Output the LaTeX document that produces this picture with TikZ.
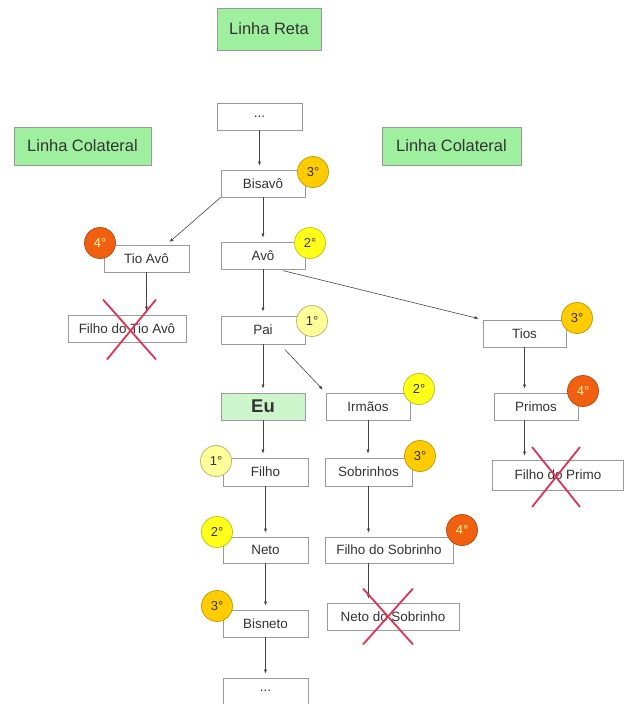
\documentclass[tikz,border=0pt]{standalone}
\usepackage{fontspec}
\setmainfont{Liberation Sans}
\usetikzlibrary{arrows.meta}
\definecolor{headfill}{HTML}{9EF09E}
\definecolor{eufill}{HTML}{CCF5CC}
\definecolor{boxline}{HTML}{9A9A9A}
\definecolor{textgray}{HTML}{333333}
\definecolor{arrowgray}{HTML}{444444}
\definecolor{firstfill}{HTML}{FFFF99}
\definecolor{secondfill}{HTML}{FFFF1A}
\definecolor{thirdfill}{HTML}{FFCC00}
\definecolor{fourthfill}{HTML}{F06010}
\definecolor{crossred}{HTML}{DD3355}
\begin{document}
\begin{tikzpicture}[x=1bp, y=-1bp,
    box/.style={shape=rectangle, draw=boxline, fill=white, line width=0.8bp, minimum width=85bp, minimum height=27bp, inner sep=0pt, text=textgray, font=\fontsize{13.5}{14}\selectfont},
    header/.style={box, fill=headfill, minimum height=38bp, font=\fontsize{16.5}{17}\selectfont},
    link/.style={draw=arrowgray, line width=0.6bp, -{Latex[length=4bp,width=3.2bp]}, shorten >=4bp},
    badge/.style={shape=circle, minimum size=31bp, inner sep=0pt, line width=0.7bp, text=textgray, font=\fontsize{13}{13}\selectfont},
    first/.style={badge, fill=firstfill, draw=firstfill!70!black},
    second/.style={badge, fill=secondfill, draw=secondfill!75!black},
    third/.style={badge, fill=thirdfill, draw=thirdfill!75!black},
    fourth/.style={badge, fill=fourthfill, draw=fourthfill!75!black, text=yellow!40!white},
    cross/.style={draw=crossred, line width=1.8bp}]
    \useasboundingbox (0, 0) rectangle (631, 704);
    \node (LinhaReta) [header, minimum width=104bp, minimum height=42bp] at (269, 29) {Linha Reta};
    \node (ColateralLeft) [header, minimum width=137bp] at (82.5, 146) {Linha Colateral};
    \node (ColateralRight) [header, minimum width=139bp] at (451.5, 146) {Linha Colateral};
    \node (TopDots) [box] at (259.5, 116.5) {...};
    \node (Bisavo) [box, minimum width=84bp] at (263, 183.5) {Bisavô};
    \node (TioAvo) [box] at (146.5, 258.5) {Tio Avô};
    \node (Avo) [box, minimum width=84bp] at (263, 255.5) {Avô};
    \node (FilhoTioAvo) [box, minimum width=118bp] at (127, 328.5) {Filho do Tio Avô};
    \node (Pai) [box, minimum width=84bp, minimum height=28bp] at (263, 330) {Pai};
    \node (Tios) [box, minimum width=83bp] at (524.5, 333.5) {Tios};
    \node (Eu) [box, minimum width=84bp, fill=eufill, font=\fontsize{18.5}{19}\selectfont\bfseries] at (263, 406.5) {Eu};
    \node (Irmaos) [box, minimum width=84bp] at (368, 406.5) {Irmãos};
    \node (Primos) [box, minimum width=84bp] at (536, 406.5) {Primos};
    \node (Filho) [box, minimum height=28bp] at (265.5, 472) {Filho};
    \node (Sobrinhos) [box, minimum width=87bp, minimum height=28bp] at (368.5, 472) {Sobrinhos};
    \node (FilhoPrimo) [box, minimum width=131bp, minimum height=30bp] at (558, 475) {Filho do Primo};
    \node (Neto) [box, minimum height=26bp] at (265.5, 550) {Neto};
    \node (FilhoSobrinho) [box, minimum width=128bp, minimum height=26bp] at (389, 550) {Filho do Sobrinho};
    \node (Bisneto) [box] at (265.5, 623.5) {Bisneto};
    \node (NetoSobrinho) [box, minimum width=132bp] at (393, 616.5) {Neto do Sobrinho};
    \node (BottomDots) [box, minimum height=26bp] at (265.5, 691) {...};
    \draw [link] (TopDots.south) -- (TopDots.south |- Bisavo.north);
    \draw [link] (Bisavo.south west) -- ([xshift=20bp]TioAvo.north);
    \draw [link] (Bisavo.south) -- (Bisavo.south |- Avo.north);
    \draw [link] (TioAvo.south) -- (TioAvo.south |- FilhoTioAvo.north);
    \draw [link] (Avo.south) -- (Avo.south |- Pai.north);
    \draw [link, shorten <=5bp] ([xshift=15bp]Avo.south) -- (Tios.north west);
    \draw [link] (Pai.south) -- (Pai.south |- Eu.north);
    \draw [link, shorten <=7bp] ([xshift=17bp]Pai.south) -- (Irmaos.north west);
    \draw [link] (Eu.south) -- (Eu.south |- Filho.north);
    \draw [link] (Irmaos.south) -- (Irmaos.south |- Sobrinhos.north);
    \draw [link] (Tios.south) -- (Tios.south |- Primos.north);
    \draw [link] (Primos.south -| Tios.south) -- (Tios.south |- FilhoPrimo.north);
    \draw [link] (Filho.south) -- (Filho.south |- Neto.north);
    \draw [link] (Neto.south) -- (Neto.south |- Bisneto.north);
    \draw [link] (Bisneto.south) -- (Bisneto.south |- BottomDots.north);
    \draw [link] (Sobrinhos.south) -- (Sobrinhos.south |- FilhoSobrinho.north);
    \draw [link] (FilhoSobrinho.south -| Sobrinhos.south) -- (Sobrinhos.south |- NetoSobrinho.north);
    \node (BisavoDegree) [third] at (313, 172) {3°};
    \node (TioAvoDegree) [fourth] at (100, 243) {4°};
    \node (AvoDegree) [second] at (310, 243) {2°};
    \node (PaiDegree) [first] at (312, 321) {1°};
    \node (TiosDegree) [third] at (577, 318) {3°};
    \node (IrmaosDegree) [second] at (419, 389) {2°};
    \node (PrimosDegree) [fourth] at (583, 391) {4°};
    \node (FilhoDegree) [first] at (216, 461) {1°};
    \node (SobrinhosDegree) [third] at (420, 456) {3°};
    \node (NetoDegree) [second] at (217, 532) {2°};
    \node (FilhoSobrinhoDegree) [fourth] at (462, 530) {4°};
    \node (BisnetoDegree) [third] at (217, 606) {3°};
    \draw [cross] ([shift={(-24, -29)}]FilhoTioAvo.center) -- ([shift={(29, 31)}]FilhoTioAvo.center);
    \draw [cross] ([shift={(29, -29)}]FilhoTioAvo.center) -- ([shift={(-20, 31)}]FilhoTioAvo.center);
    \draw [cross] ([shift={(-26, -28)}]FilhoPrimo.center) -- ([shift={(22, 32)}]FilhoPrimo.center);
    \draw [cross] ([shift={(22, -28)}]FilhoPrimo.center) -- ([shift={(-26, 32)}]FilhoPrimo.center);
    \draw [cross] ([shift={(-30, -28)}]NetoSobrinho.center) -- ([shift={(20, 28)}]NetoSobrinho.center);
    \draw [cross] ([shift={(20, -28)}]NetoSobrinho.center) -- ([shift={(-30, 28)}]NetoSobrinho.center);
\end{tikzpicture}
\end{document}
